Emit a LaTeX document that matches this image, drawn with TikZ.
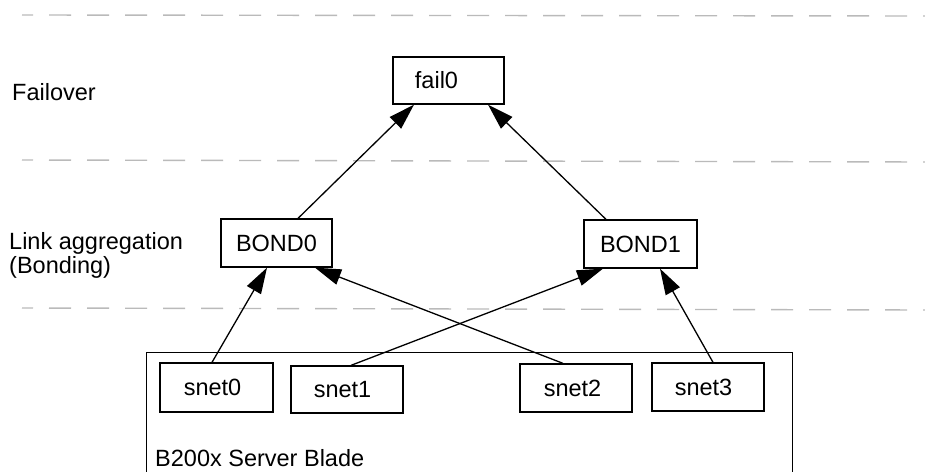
\documentclass[tikz,border=0pt]{standalone}
\usepackage{fontspec}
\setmainfont{Liberation Sans}
\usetikzlibrary{arrows.meta}
\begin{document}
\begin{tikzpicture}[x=1pt,y=-1pt,
  every node/.style={font=\fontsize{23.5}{28}\selectfont},
  box/.style={draw, line width=1.3pt, inner sep=0pt, minimum width=112pt, minimum height=48pt},
  lbl/.style={anchor=base west, inner sep=0pt},
  layer/.style={draw=black!27, line width=1.4pt, dash pattern=on 22pt off 16pt, dash phase=11pt},
  arr/.style={line width=1.3pt, -{Triangle[length=26pt,width=16pt]}}]
\useasboundingbox (0,0) rectangle (925,471);
\clip (0,0) rectangle (925,471);
\fill[white] (0,0) rectangle (925,471);
% layer separators
\coordinate (l1a) at (22,15);  \coordinate (l1b) at (925,16);
\coordinate (l2a) at (22,160); \coordinate (l2b) at (925,162);
\coordinate (l3a) at (22,308); \coordinate (l3b) at (925,310);
\draw[layer] (l1a) -- (l1b);
\draw[layer] (l2a) -- (l2b);
\draw[layer] (l3a) -- (l3b);
% layer labels
\node[lbl] (failover) at (12,100) {Failover};
\node[lbl] (link) at (9,249) {Link aggregation};
\node[lbl] (bonding) at (9,273) {(Bonding)};
% blade
\node[draw, line width=1.3pt, inner sep=0pt, minimum width=646pt, minimum height=200pt, anchor=north west] (blade) at (146,352) {};
\node[lbl] (bladelbl) at (155,466) {B200x Server Blade};
% boxes
\node[box, minimum width=111pt, minimum height=47pt] (fail0) at (448.5,80.5) {\hspace*{-24pt}fail0};
\node[box, minimum width=111pt] (bond0) at (276.5,243) {BOND0};
\node[box, minimum width=113pt] (bond1) at (640.5,244) {BOND1};
\node[box, minimum width=113pt, minimum height=49pt] (snet0) at (216.5,387.5) {\hspace*{-8pt}snet0};
\node[box, minimum height=47pt] (snet1) at (347,389.5) {\hspace*{-9pt}snet1};
\node[box] (snet2) at (576,388) {\hspace*{-7pt}snet2};
\node[box] (snet3) at (708,387) {\hspace*{-9pt}snet3};
% connectors
\draw[arr] ([xshift=21.5pt]bond0.north) -- ([xshift=-34.5pt]fail0.south);
\draw[arr] ([xshift=-34.5pt]bond1.north) -- ([xshift=39.5pt]fail0.south);
\draw[arr] ([xshift=-4.5pt]snet0.north) -- ([xshift=-9.5pt]bond0.south);
\draw[arr] ([xshift=-13pt]snet2.north) -- ([xshift=38.5pt]bond0.south);
\draw[arr] ([xshift=4pt]snet1.north) -- ([xshift=-37.5pt]bond1.south);
\draw[arr] ([xshift=5pt]snet3.north) -- ([xshift=19.5pt]bond1.south);
\end{tikzpicture}
\end{document}
